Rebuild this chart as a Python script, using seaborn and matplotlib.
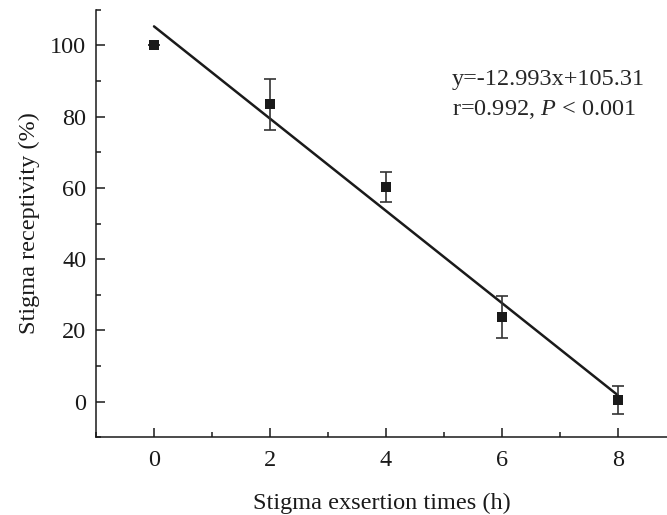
import numpy as np
import pandas as pd
import matplotlib
matplotlib.use('Agg')
import matplotlib.pyplot as plt
import seaborn as sns
from matplotlib.ticker import MultipleLocator

# Data
hours = [0, 2, 4, 6, 8]
receptivity = [100.0, 83.5, 60.2, 23.7, 0.5]
err = [0.0, 7.2, 4.2, 5.9, 3.9]
eq_text = 'y=-12.993x+105.31'
stat_text = r'r=0.992, $\it{P}$ < 0.001'

df = pd.DataFrame({'hours': hours, 'receptivity': receptivity, 'err': err})

sns.set_style('ticks')
plt.rcParams['font.family'] = ['Liberation Serif', 'DejaVu Serif']
plt.rcParams['mathtext.fontset'] = 'custom'
plt.rcParams['mathtext.rm'] = 'Liberation Serif'
plt.rcParams['mathtext.it'] = 'Liberation Serif:italic'

fs = 17.5
fig = plt.figure(figsize=(6.67, 5.15), dpi=100)
ax = fig.add_axes([0.144, 0.151, 0.856, 0.830])

# regression line
sns.regplot(data=df, x='hours', y='receptivity', ci=None, scatter=False,
            color='#1a1a1a', line_kws={'linewidth': 1.8}, ax=ax)

# error bars and markers
ax.errorbar(df['hours'], df['receptivity'], yerr=df['err'], fmt='none',
            ecolor='#333333', elinewidth=1.2, capsize=4, capthick=1.2, zorder=3)
sns.scatterplot(data=df, x='hours', y='receptivity', marker='s', s=45,
                color='#1a1a1a', edgecolor='#1a1a1a', linewidth=0, ax=ax, zorder=4)

ax.text(5.14, 90.5, eq_text, fontsize=fs, ha='left', va='center')
ax.text(5.14, 82.0, stat_text, fontsize=fs, ha='left', va='center')

ax.set_xlim(-1, 8.85)
ax.set_ylim(-10, 110)
ax.set_xticks([0, 2, 4, 6, 8])
ax.set_yticks([0, 20, 40, 60, 80, 100])
ax.xaxis.set_minor_locator(MultipleLocator(1))
ax.yaxis.set_minor_locator(MultipleLocator(10))
ax.tick_params(which='major', direction='in', length=6.5, width=1.1,
               labelsize=fs, color='#1a1a1a', labelcolor='#1a1a1a')
ax.tick_params(axis='x', which='major', pad=9)
ax.tick_params(axis='y', which='major', pad=7)
ax.tick_params(which='minor', direction='in', length=3.5, width=1.1, color='#1a1a1a')
ax.set_xlabel('Stigma exsertion times (h)', fontsize=fs, color='#1a1a1a', labelpad=16)
ax.set_ylabel('Stigma receptivity (%)', fontsize=fs, color='#1a1a1a', labelpad=7)

sns.despine(ax=ax)
for s in ['left', 'bottom']:
    ax.spines[s].set_linewidth(1.1)
    ax.spines[s].set_color('#1a1a1a')

fig.savefig('out.png', dpi=100)
